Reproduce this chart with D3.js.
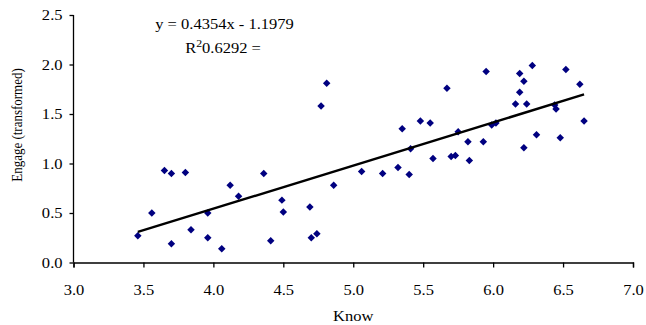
<!DOCTYPE html>
<html>
<head>
<meta charset="utf-8">
<script src="https://cdn.jsdelivr.net/npm/d3@7"></script>
<style>
  html, body { margin: 0; padding: 0; background: #fff; }
  svg { display: block; }
  text { font-family: "Liberation Serif", "Times New Roman", serif; fill: #000; }
</style>
</head>
<body>
<svg id="chart" width="646" height="325"></svg>
<script>
// Observations: knowledge score and transformed engagement score
const know = [
  3.46, 3.56, 3.65, 3.70, 3.70, 3.80, 3.84, 3.96, 3.96, 4.06,
  4.12, 4.18, 4.36, 4.41, 4.49, 4.50, 4.69, 4.70, 4.74, 4.77,
  4.81, 4.86, 5.06, 5.21, 5.32, 5.35, 5.40, 5.41, 5.48, 5.55,
  5.57, 5.67, 5.70, 5.73, 5.75, 5.82, 5.83, 5.93, 5.95, 5.99,
  6.02, 6.16, 6.19, 6.19, 6.22, 6.22, 6.24, 6.28, 6.31, 6.44,
  6.45, 6.48, 6.52, 6.62, 6.65
];
const engage = [
  0.27, 0.50, 0.93, 0.90, 0.19, 0.91, 0.33, 0.50, 0.25, 0.14,
  0.78, 0.67, 0.90, 0.22, 0.63, 0.51, 0.56, 0.25, 0.29, 1.58,
  1.81, 0.78, 0.92, 0.90, 0.96, 1.35, 0.89, 1.15, 1.43, 1.41,
  1.05, 1.76, 1.07, 1.08, 1.32, 1.22, 1.03, 1.22, 1.93, 1.39,
  1.41, 1.60, 1.91, 1.72, 1.83, 1.16, 1.60, 1.99, 1.29, 1.59,
  1.55, 1.26, 1.95, 1.80, 1.43
];

// Linear trendline reported on the chart
const slope = 0.4354;
const intercept = -1.1979;
const rSquared = "0.6292";

const xTicks = [3.0, 3.5, 4.0, 4.5, 5.0, 5.5, 6.0, 6.5, 7.0];
const yTicks = [0.0, 0.5, 1.0, 1.5, 2.0, 2.5];

const svg = d3.select("#chart");
const plotLeft = 73.5, plotRight = 633, plotTop = 15, plotBottom = 262.5;
const fontPx = 14;     // label font size
const widen = 1.18;    // horizontal widening of the labels

const x = d3.scaleLinear().domain([3, 7]).range([plotLeft, plotRight]);
const y = d3.scaleLinear().domain([0, 2.5]).range([plotBottom, plotTop]);

// Axes
const xAxis = d3.axisBottom(x).tickValues(xTicks).tickFormat(d3.format(".1f"))
  .tickSizeInner(5).tickSizeOuter(5);
const yAxis = d3.axisLeft(y).tickValues(yTicks).tickFormat(d3.format(".1f"))
  .tickSizeInner(4).tickSizeOuter(0);

const gx = svg.append("g").attr("transform", `translate(0,${plotBottom})`).call(xAxis);
const gy = svg.append("g").attr("transform", `translate(${plotLeft},0)`).call(yAxis);
[gx, gy].forEach(g => {
  g.attr("font-family", null).attr("font-size", null);
  g.select(".domain").attr("stroke", "#000").attr("stroke-width", 1.3);
  g.selectAll(".tick line").attr("stroke", "#000").attr("stroke-width", 1.3);
  g.selectAll(".tick text").style("font-size", fontPx + "px");
});
gx.selectAll(".tick text").attr("y", 32.5).attr("dy", 0)
  .attr("transform", `scale(${widen},1)`);
gy.selectAll(".tick text").attr("x", -11 / widen).attr("dy", "0.34em")
  .attr("transform", `scale(${widen},1)`);
// the y axis line stops at the top tick
gy.select(".domain").attr("d", `M0,${plotBottom}V${plotTop}`);

// Points
const pts = know.map((k, i) => ({ k, e: engage[i] }));
const diamond = d3.symbol().type(d3.symbolSquare).size(28);
svg.append("g").selectAll("path").data(pts).join("path")
  .attr("d", diamond)
  .attr("transform", d => `translate(${x(d.k)},${y(d.e)}) rotate(45)`)
  .attr("fill", "#000080");

// Trendline across the observed range
const [kMin, kMax] = d3.extent(know);
svg.append("line")
  .attr("x1", x(kMin)).attr("y1", y(slope * kMin + intercept))
  .attr("x2", x(kMax)).attr("y2", y(slope * kMax + intercept))
  .attr("stroke", "#000").attr("stroke-width", 2.4);

// Equation label
function wideText(cx, baseline) {
  return svg.append("g").attr("transform", `translate(${cx},${baseline}) scale(${widen},1)`)
    .append("text").attr("text-anchor", "middle").style("font-size", fontPx + "px");
}
wideText(224.5, 29).text(`y = ${slope}x - ${Math.abs(intercept)}`);
const r2 = wideText(223, 53);
r2.append("tspan").text("R");
r2.append("tspan").attr("dy", -6).style("font-size", "10px").text("2");
r2.append("tspan").attr("dy", 6).text(`${rSquared} =`);

// Axis titles
wideText((plotLeft + plotRight) / 2, 321).text("Know");
svg.append("text").attr("transform", `translate(22,125) scale(${widen},1) rotate(-90)`)
  .attr("text-anchor", "middle").style("font-size", "13px").text("Engage (transformed)");
</script>
</body>
</html>
